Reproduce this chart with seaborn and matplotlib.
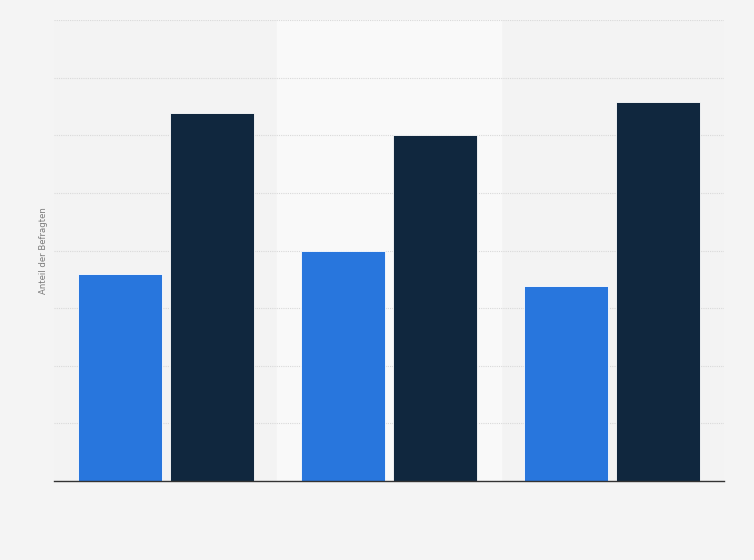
import matplotlib
matplotlib.use("Agg")
import matplotlib.pyplot as plt
import seaborn as sns
import pandas as pd

# --- data (category names are not shown there) ---
categories = ["Gruppe 1", "Gruppe 2", "Gruppe 3"]
series_names = ["Serie A", "Serie B"]
values_a = [35.9, 40.0, 33.9]
values_b = [63.8, 60.0, 65.8]
y_ticks = [0, 10, 20, 30, 40, 50, 60, 70, 80]

df = pd.DataFrame({
    "Kategorie": categories * 2,
    "Serie": [series_names[0]] * 3 + [series_names[1]] * 3,
    "Wert": values_a + values_b,
})

sns.set_style("white")
plt.rcParams["font.family"] = ["DejaVu Sans"]

fig = plt.figure(figsize=(7.54, 5.6), dpi=100, facecolor="#f4f4f4")
ax = fig.add_axes([54 / 754, 79 / 560, 670 / 754, 461 / 560])
ax.set_facecolor("#f3f3f3")

# lighter band behind the middle category
ax.axvspan(0.5, 1.5, color="#f9f9f9", zorder=0)

sns.barplot(data=df, x="Kategorie", y="Wert", hue="Serie",
            palette=["#2876dd", "#10273e"], saturation=1,
            width=0.824, gap=0.087,
            edgecolor="white", linewidth=0.6, legend=False, ax=ax, zorder=3)

ax.set_ylim(0, 80)
ax.set_xlim(-0.5, 2.5)
ax.set_yticks(y_ticks)
ax.yaxis.grid(True, linestyle=(0, (1, 1)), color="#d9d9d9", linewidth=0.8)
ax.set_axisbelow(True)
ax.tick_params(left=False, bottom=False, labelleft=False, labelbottom=False)

for side in ["top", "right", "left"]:
    ax.spines[side].set_visible(False)
ax.spines["bottom"].set_color("#333333")
ax.spines["bottom"].set_linewidth(1.0)
ax.spines["bottom"].set_zorder(4)

ax.set_xlabel("")
ax.set_ylabel("Anteil der Befragten", fontsize=6.1, color="#7a7a7a", labelpad=4)

fig.savefig("out.png", dpi=100, facecolor=fig.get_facecolor())
